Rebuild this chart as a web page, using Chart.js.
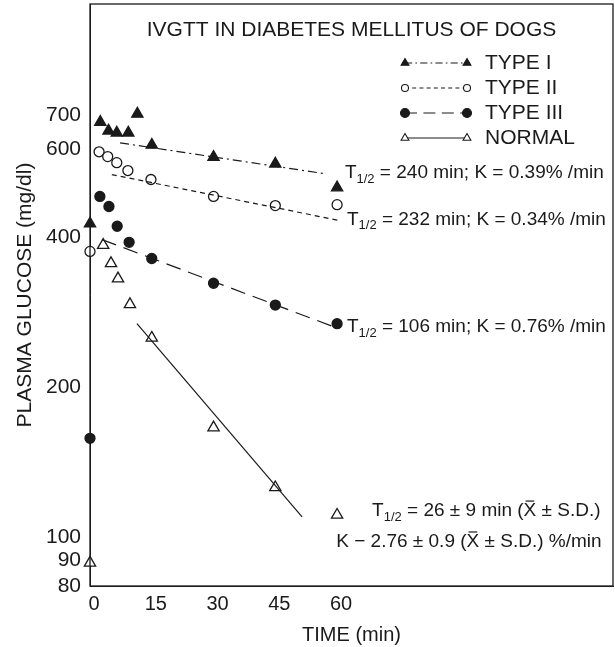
<!DOCTYPE html>
<html>
<head>
<meta charset="utf-8">
<script src="https://cdn.jsdelivr.net/npm/chart.js@4.4.0/dist/chart.umd.min.js"></script>
<style>
  html, body { margin: 0; padding: 0; background: #fff; }
</style>
</head>
<body>
<canvas id="chart" width="615" height="647"></canvas>
<script>
const INK = "#1a1a1a";
const FONT = "'Liberation Sans', Arial, sans-serif";

// time (min) / plasma glucose (mg/dl)
const type1Time = [0, 2.5, 4.5, 6.5, 9.3, 11.5, 15, 30, 45, 60];
const type1Glucose = [425, 679, 652, 646, 646, 705, 611, 578, 560, 502];

const type2Time = [0, 2.2, 4.3, 6.5, 9.2, 14.8, 30, 45, 60];
const type2Glucose = [374, 592, 579, 563, 543, 521, 482, 462, 464];

const type3Time = [0, 2.4, 4.6, 6.6, 9.5, 15, 30, 45, 60];
const type3Glucose = [158, 482, 460, 420, 390, 362, 323, 292, 268];

const normalTime = [0, 3.2, 5.1, 6.8, 9.7, 15, 30, 45, 60];
const normalGlucose = [89, 385, 354, 330, 293, 251, 166, 126, 111];

// fitted decay lines (end points)
const type1FitTime = [7.3, 57.1];
const type1FitGlucose = [617, 535];
const type2FitTime = [5.3, 60.7];
const type2FitGlucose = [533, 431];
const type3FitTime = [2.9, 58.8];
const type3FitGlucose = [395, 265];
const normalFitTime = [11.4, 51.5];
const normalFitGlucose = [268, 110];

const xTicks = [0, 15, 30, 45, 60];
const yTicks = [80, 90, 100, 200, 400, 600, 700];

const seriesNames = ["TYPE I", "TYPE II", "TYPE III", "NORMAL"];

const toPoints = (xs, ys) => xs.map((x, i) => ({ x: x, y: ys[i] }));

const styles = [
  { dash: [9, 4, 2, 4], point: "triangle", fill: INK, r: 6.5, lr: 4.5 },
  { dash: [5, 4], point: "circle", fill: "#fff", r: 5, lr: 3.5 },
  { dash: [15, 8], point: "circle", fill: INK, r: 5, lr: 4.5 },
  { dash: [], point: "triangle", fill: "#fff", r: 6.5, lr: 4.5 }
];

const pointSets = [
  toPoints(type1Time, type1Glucose),
  toPoints(type2Time, type2Glucose),
  toPoints(type3Time, type3Glucose),
  toPoints(normalTime, normalGlucose)
];
const fitSets = [
  toPoints(type1FitTime, type1FitGlucose),
  toPoints(type2FitTime, type2FitGlucose),
  toPoints(type3FitTime, type3FitGlucose),
  toPoints(normalFitTime, normalFitGlucose)
];

const datasets = [];
fitSets.forEach((pts, i) => {
  datasets.push({
    label: seriesNames[i] + " fit",
    data: pts,
    showLine: true,
    pointRadius: 0,
    borderColor: INK,
    borderWidth: 1.2,
    borderDash: styles[i].dash,
    clip: false
  });
});
pointSets.forEach((pts, i) => {
  datasets.push({
    label: seriesNames[i],
    data: pts,
    showLine: false,
    pointStyle: styles[i].point,
    pointRadius: styles[i].r,
    backgroundColor: styles[i].fill,
    borderColor: INK,
    borderWidth: 1.3,
    clip: false
  });
});

// text notes anchored in data coordinates (left edge, vertical centre)
const notes = [
  { x: 61.9, y: 537, parts: [["T"], ["1/2", "sub"], [" = 240 min; K = 0.39% /min"]] },
  { x: 62.4, y: 433, parts: [["T"], ["1/2", "sub"], [" = 232 min; K = 0.34% /min"]] },
  { x: 62.4, y: 264, parts: [["T"], ["1/2", "sub"], [" = 106 min; K = 0.76% /min"]] },
  { x: 68.5, y: 113, parts: [["T"], ["1/2", "sub"], [" = 26 \u00b1 9 min ("], ["X", "bar"], [" \u00b1 S.D.)"]] },
  { x: 59.8, y: 98, parts: [["K \u2212 2.76 \u00b1 0.9 ("], ["X", "bar"], [" \u00b1 S.D.) %/min"]] }
];

function drawRich(ctx, x, y, parts) {
  ctx.textBaseline = "middle";
  ctx.textAlign = "left";
  parts.forEach(([txt, kind]) => {
    if (kind === "sub") {
      ctx.font = "13px " + FONT;
      ctx.fillText(txt, x, y + 6);
    } else {
      ctx.font = "19px " + FONT;
      ctx.fillText(txt, x, y);
    }
    const w = ctx.measureText(txt).width;
    if (kind === "bar") {
      ctx.beginPath();
      ctx.moveTo(x + 2, y - 10);
      ctx.lineTo(x + w - 2, y - 10);
      ctx.lineWidth = 1.2;
      ctx.stroke();
    }
    x += w;
  });
}

function legendMarker(ctx, st, x, y) {
  ctx.beginPath();
  if (st.point === "circle") {
    ctx.arc(x, y, st.lr, 0, Math.PI * 2);
  } else {
    const r = st.lr;
    ctx.moveTo(x, y - r);
    ctx.lineTo(x + r * 0.87, y + r * 0.5);
    ctx.lineTo(x - r * 0.87, y + r * 0.5);
    ctx.closePath();
  }
  ctx.fillStyle = st.fill;
  ctx.fill();
  ctx.setLineDash([]);
  ctx.lineWidth = 1.1;
  ctx.stroke();
}

const decorations = {
  id: "decorations",
  afterDraw(chart) {
    const { ctx, chartArea: a, scales } = chart;
    ctx.save();
    ctx.strokeStyle = INK;
    ctx.fillStyle = INK;
    ctx.lineWidth = 1.3;
    ctx.strokeRect(a.left, a.top, a.right - a.left, a.bottom - a.top);

    ctx.font = "21px " + FONT;
    ctx.textAlign = "center";
    ctx.textBaseline = "middle";
    ctx.fillText("IVGTT IN DIABETES MELLITUS OF DOGS", (a.left + a.right) / 2, 30);

    // legend
    seriesNames.forEach((name, i) => {
      const y = 63 + i * 25;
      const st = styles[i];
      ctx.beginPath();
      ctx.setLineDash(st.dash.map(d => d * 0.8));
      ctx.lineWidth = 1.1;
      ctx.moveTo(405, y);
      ctx.lineTo(467, y);
      ctx.stroke();
      legendMarker(ctx, st, 405, y);
      legendMarker(ctx, st, 467, y);
      ctx.fillStyle = INK;
      ctx.font = "21px " + FONT;
      ctx.textAlign = "left";
      ctx.textBaseline = "middle";
      ctx.fillText(name, 485, y);
    });

    ctx.fillStyle = INK;
    notes.forEach(n => {
      drawRich(ctx, scales.x.getPixelForValue(n.x), scales.y.getPixelForValue(n.y), n.parts);
    });
    ctx.restore();
  }
};

new Chart(document.getElementById("chart"), {
  type: "scatter",
  data: { datasets },
  options: {
    responsive: false,
    devicePixelRatio: 1,
    animation: false,
    layout: { autoPadding: false, padding: { top: 4, right: 2, left: 0, bottom: 0 } },
    plugins: {
      legend: { display: false },
      tooltip: { enabled: false }
    },
    scales: {
      x: {
        type: "linear",
        min: 0,
        max: 127,
        grid: { display: false, drawTicks: false },
        border: { display: true, color: INK, width: 1 },
        afterBuildTicks: s => { s.ticks = xTicks.map(v => ({ value: v })); },
        afterFit: s => {
          s.height = 61;
          s.paddingLeft = 0;
          s.paddingRight = 0;
        },
        ticks: {
          color: INK,
          font: { family: FONT, size: 20 },
          padding: 6,
          labelOffset: 4,
          autoSkip: false,
          maxRotation: 0,
          callback: v => String(v)
        },
        title: {
          display: true,
          text: "TIME (min)",
          color: INK,
          font: { family: FONT, size: 20 },
          padding: { top: 0, bottom: 0 }
        }
      },
      y: {
        type: "logarithmic",
        min: 80,
        max: 1170,
        grid: { display: false, drawTicks: false },
        border: { display: true, color: INK, width: 1 },
        afterBuildTicks: s => { s.ticks = yTicks.map(v => ({ value: v })); },
        afterFit: s => {
          s.width = 90;
          s.paddingTop = 0;
          s.paddingBottom = 0;
        },
        ticks: {
          color: INK,
          font: { family: FONT, size: 21 },
          padding: 9,
          autoSkip: false,
          callback: v => String(v)
        },
        title: {
          display: true,
          text: "PLASMA GLUCOSE (mg/dl)",
          color: INK,
          font: { family: FONT, size: 21 },
          padding: { top: 13, bottom: 0 }
        }
      }
    }
  },
  plugins: [decorations]
});
</script>
</body>
</html>
